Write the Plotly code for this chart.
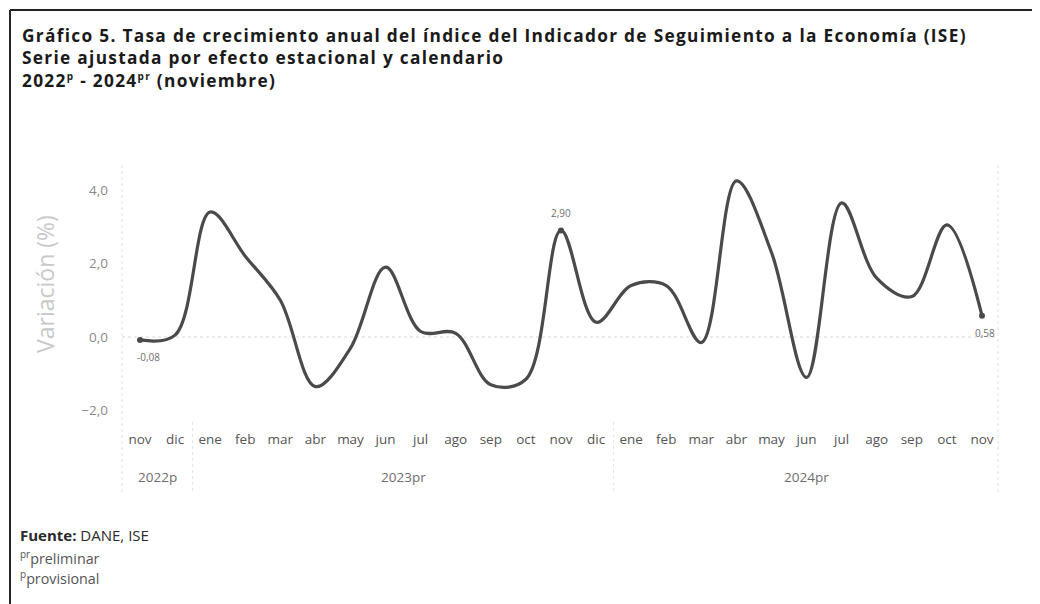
import plotly.graph_objects as go

# ---- data ----
months = ["nov", "dic", "ene", "feb", "mar", "abr", "may", "jun", "jul", "ago", "sep", "oct",
          "nov", "dic", "ene", "feb", "mar", "abr", "may", "jun", "jul", "ago", "sep", "oct", "nov"]
variacion = [-0.08, 0.05, 3.4, 2.2, 1.0, -1.35, -0.3, 1.9, 0.15, 0.1, -1.3, -1.15,
             2.90, 0.4, 1.4, 1.4, -0.15, 4.25, 2.3, -1.1, 3.65, 1.6, 1.1, 3.05, 0.58]
years = ["2022p", "2023pr", "2024pr"]
year_spans = [(0, 1), (2, 13), (14, 24)]
labeled_idx = [0, 12, 24]
ytick_vals = [-2, 0, 2, 4]

# ---- geometry (pixels in the 1040x604 window; the page body adds an 8px offset) ----
OFF = 8
W, H = 1040 - OFF, 604 - OFF
PL, PR, PT, PB = 122, 998, 170, 420
X0PX, X24PX = 140, 982
Y0PX, Y4PX = 337, 190

pxu = (X24PX - X0PX) / 24.0
xr = [0 - (X0PX - PL) / pxu, 24 + (PR - X24PX) / pxu]
pyu = (Y0PX - Y4PX) / 4.0
yr = [(Y0PX - PB) / pyu, (Y0PX - PT) / pyu]


def px(x):
    return (x - PL) / (PR - PL)


def py(y):
    return (PB - y) / (PB - PT)


x = list(range(len(months)))

fig = go.Figure()
fig.add_trace(go.Scatter(
    x=x, y=variacion, mode="lines",
    line=dict(color="#4a4a4a", width=3.2, shape="spline", smoothing=1.0),
    hoverinfo="skip", showlegend=False,
))
fig.add_trace(go.Scatter(
    x=[x[i] for i in labeled_idx], y=[variacion[i] for i in labeled_idx], mode="markers",
    marker=dict(color="#4a4a4a", size=6),
    hoverinfo="skip", showlegend=False,
))

annotations = []
# data labels
lab_pos = {0: ("bottom", -8), 12: ("top", 8), 24: ("bottom", -8)}
for i in labeled_idx:
    pos, dy = lab_pos[i]
    txt = f"{variacion[i]:.2f}".replace(".", ",")
    annotations.append(dict(
        x=x[i], y=variacion[i], xref="x", yref="y", text=txt, showarrow=False,
        yshift=dy, xshift=8 if i == 0 else (3 if i == 24 else 0),
        yanchor="top" if pos == "bottom" else "bottom",
        font=dict(family="Open Sans", size=10, color="#707070"),
    ))

# year labels
for yl, (a, b) in zip(years, year_spans):
    annotations.append(dict(
        x=(x[a] + x[b]) / 2, y=py(477), xref="x", yref="paper", text=yl, showarrow=False,
        yanchor="middle", font=dict(family="Open Sans", size=13.5, color="#6e6e6e"),
    ))

# y axis title
annotations.append(dict(
    x=px(45), y=py(284), xref="paper", yref="paper", text="Variación (%)", showarrow=False,
    textangle=-90, xanchor="center", yanchor="middle",
    font=dict(family="Open Sans", size=23, color="#c8c8c8"),
))

# title (single block, three lines)
sup = "<sup><span style='font-size:10px'>{}</span></sup>"
title_lines = [
    "Gráfico 5. Tasa de crecimiento anual del índice del Indicador de Seguimiento a la Economía (ISE)",
    "Serie ajustada por efecto estacional y calendario",
    "2022" + sup.format("p") + " - 2024" + sup.format("pr") + " (noviembre)",
]
title_text = "<br>".join(
    f"<span style='letter-spacing:1.3px'><b>{t}</b></span>" for t in title_lines
)
annotations.append(dict(
    x=px(20), y=py(22), xref="paper", yref="paper", text=title_text, showarrow=False,
    xanchor="left", yanchor="top", align="left",
    font=dict(family="Open Sans", size=17.3, color="#1a1a1a"),
))

# footer
footer = [
    ("<b>Fuente:</b> DANE, ISE", 535, 15, "#2a2a2a"),
    ("<sup>pr</sup>preliminar", 557, 14.3, "#555555"),
    ("<sup>p</sup>provisional", 577, 14.3, "#555555"),
]
for t, yy, fs, col in footer:
    annotations.append(dict(
        x=px(18), y=py(yy), xref="paper", yref="paper", text=t, showarrow=False,
        xanchor="left", yanchor="middle", font=dict(family="Open Sans", size=fs, color=col),
    ))

shapes = []
# frame
shapes.append(dict(type="line", xref="paper", yref="paper", x0=px(10), x1=px(1045), y0=py(10), y1=py(10),
                   line=dict(color="#222222", width=2)))
shapes.append(dict(type="line", xref="paper", yref="paper", x0=px(10), x1=px(10), y0=py(10), y1=py(610),
                   line=dict(color="#222222", width=2)))
# zero dotted line
shapes.append(dict(type="line", xref="paper", yref="y", x0=0, x1=1, y0=0, y1=0,
                   line=dict(color="#d9d9d9", width=1, dash="dot"), layer="below"))
# vertical dotted borders
for xx in [PL, PR]:
    shapes.append(dict(type="line", xref="paper", yref="paper", x0=px(xx), x1=px(xx), y0=py(PT - 5), y1=py(492),
                       line=dict(color="#e3e3e3", width=1, dash="dot"), layer="below"))
# year separators
for a, b in zip(year_spans[:-1], year_spans[1:]):
    xs = (x[a[1]] + x[b[0]]) / 2
    shapes.append(dict(type="line", xref="x", yref="paper", x0=xs, x1=xs, y0=py(422), y1=py(492),
                       line=dict(color="#e3e3e3", width=1, dash="dot"), layer="below"))

fig.update_layout(
    width=W, height=H,
    margin=dict(l=PL - OFF, r=1040 - PR, t=PT - OFF, b=604 - PB, pad=0),
    paper_bgcolor="white", plot_bgcolor="white",
    separators=",.",
    annotations=annotations, shapes=shapes,
    xaxis=dict(range=xr, tickmode="array", tickvals=x, ticktext=months, showgrid=False,
               zeroline=False, showline=False, ticks="", ticklabelstandoff=9,
               tickfont=dict(family="Open Sans", size=13.5, color="#555555"), fixedrange=True),
    yaxis=dict(range=yr, tickmode="array", tickvals=ytick_vals, tickformat=".1f", showgrid=False,
               zeroline=False, showline=False, ticks="", ticklabelstandoff=13,
               tickfont=dict(family="Open Sans", size=13.5, color="#8a8a8a"),
               fixedrange=True),
)

fig.write_html("out.html")
